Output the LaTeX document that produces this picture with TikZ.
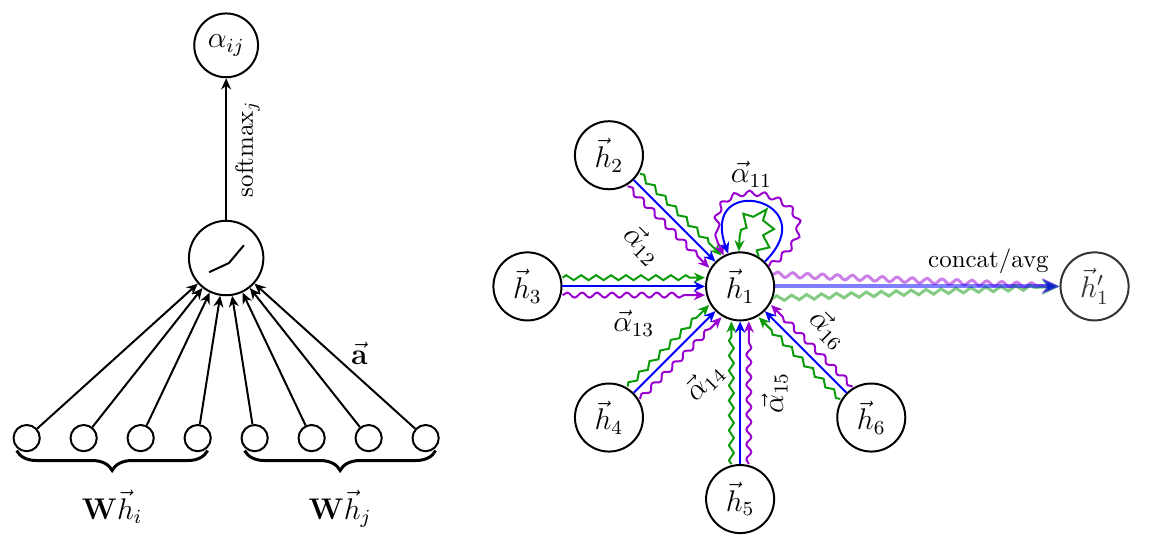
\documentclass[tikz,border=0pt]{standalone}
\usepackage{amsmath}
\usepackage{amssymb}
\usetikzlibrary{positioning}
\usetikzlibrary{arrows.meta}
\usetikzlibrary{decorations.pathmorphing}
\usetikzlibrary{decorations.pathreplacing}
\definecolor{attblue}{HTML}{0000FF}
\definecolor{attgreen}{HTML}{0A9A0A}
\definecolor{attpurple}{HTML}{9A00D0}
\tikzset{
    unit/.style={circle, draw, thick, minimum size=0.37cm, inner sep=0pt},
    neuron/.style={circle, draw, thick, minimum size=1.05cm},
    coef/.style={circle, draw, thick, minimum size=0.9cm, inner sep=0pt, font=\large},
    feat/.style={circle, draw, thick, minimum size=0.96cm, inner sep=0pt, font=\large},
    wire/.style={thick, -{Stealth[length=4.5pt,width=4pt]}},
    headzig/.style={wire, attgreen, decorate,
        decoration={zigzag, segment length=6pt, amplitude=1pt, post length=6pt}},
    headsnake/.style={wire, attpurple, decorate,
        decoration={snake, segment length=6pt, amplitude=1pt, post length=6pt}},
    outwire/.style={line width=1.2pt, opacity=0.5, -{Stealth[length=7pt,width=6pt]}},
    groupbrace/.style={line width=1.2pt, decorate, decoration={brace, mirror, amplitude=8pt}},
    lbl/.style={text=black, font=\large}
}

\begin{document}
\begin{tikzpicture}
    \useasboundingbox (0,0) rectangle (16.49,7.83);

    % attention mechanism a(W h_i, W h_j)
    \node[neuron] (act) at (3.19,4.19) {};
    \node[coef, on grid, above=3cm of act] (alpha) {$\alpha_{ij}$};
    \foreach \i in {1,...,8}
        \node[unit] (in\i) at ({3.19+0.804*(\i-4.5)},1.65) {};
    % leaky relu
    \draw[thick] ([shift={(-0.24,-0.2)}]act.center) -- ([shift={(0.04,-0.07)}]act.center)
        -- ([shift={(0.25,0.18)}]act.center);
    \foreach \i in {1,...,7}
        \draw[wire] (in\i) -- (act);
    \draw[wire] (in8) -- node[lbl, pos=0.42, above right, inner sep=1pt]{$\vec{\mathbf{a}}$} (act);
    \draw[wire] (act) -- node[midway, sloped, below]{$\mathrm{softmax}_j$} (alpha);
    \draw[groupbrace] ([yshift=-1pt]in1.south west) -- node[lbl, below=12pt]{$\mathbf{W}\vec{h}_i$} ([yshift=-1pt]in4.south east);
    \draw[groupbrace] ([yshift=-1pt]in5.south west) -- node[lbl, below=12pt]{$\mathbf{W}\vec{h}_j$} ([yshift=-1pt]in8.south east);

    % multi-head attention over the neighbourhood of h_1
    \node[feat] (h1) at (10.44,3.79) {$\vec{h}_1$};
    \node[feat, on grid, above left=1.85cm and 1.85cm of h1] (h2) {$\vec{h}_2$};
    \node[feat, on grid, left=3cm of h1] (h3) {$\vec{h}_3$};
    \node[feat, on grid, below left=1.85cm and 1.85cm of h1] (h4) {$\vec{h}_4$};
    \node[feat, on grid, below=3cm of h1] (h5) {$\vec{h}_5$};
    \node[feat, on grid, below right=1.85cm and 1.85cm of h1] (h6) {$\vec{h}_6$};
    \node[feat, on grid, right=5cm of h1, draw=black!80, text=black!80] (h1p) {$\vec{h}'_1$};

    \foreach \n/\ang in {2/135, 3/180, 4/225, 5/270, 6/315} {
        \draw[headzig, transform canvas={shift={({\ang-90}:3.5pt)}}] (h\n) -- (h1);
        \draw[headsnake, transform canvas={shift={({\ang+90}:3.5pt)}}] (h\n) -- (h1);
    }
    \draw[wire, attblue] (h2) -- node[lbl, pos=0.45, sloped, below=7pt]{$\vec{\alpha}_{12}$} (h1);
    \draw[wire, attblue] (h3) -- node[lbl, pos=0.5, below=6pt]{$\vec{\alpha}_{13}$} (h1);
    \draw[wire, attblue] (h4) -- node[lbl, pos=0.5, sloped, below=8pt]{$\vec{\alpha}_{14}$} (h1);
    \draw[wire, attblue] (h5) -- node[lbl, pos=0.5, sloped, below=5pt]{$\vec{\alpha}_{15}$} (h1);
    \draw[wire, attblue] (h6) -- node[lbl, pos=0.5, sloped, above=4pt]{$\vec{\alpha}_{16}$} (h1);

    % self attention
    \draw[headsnake] (h1) to[out=35, in=118, distance=1.65cm] (h1);
    \draw[wire, attblue] (h1) to[out=45, in=110, distance=1.25cm] (h1);
    \draw[headzig, decoration={segment length=7pt, amplitude=2pt}] (h1) to[out=58, in=92, distance=0.85cm] (h1);
    \node[lbl] (a11) at (10.6,5.37) {$\vec{\alpha}_{11}$};

    % heads combined
    \draw[outwire, attpurple, decorate, decoration={snake, segment length=6pt, amplitude=1pt, post length=8pt}] (h1.20) -- (h1p.west);
    \draw[outwire, attgreen, decorate, decoration={zigzag, segment length=6pt, amplitude=1pt, post length=8pt}] (h1.-20) -- (h1p.west);
    \draw[outwire, attblue, line width=1.6pt] (h1) -- node[pos=0.75, above=1pt, text=black, text opacity=1]{concat/avg} (h1p);
\end{tikzpicture}
\end{document}
